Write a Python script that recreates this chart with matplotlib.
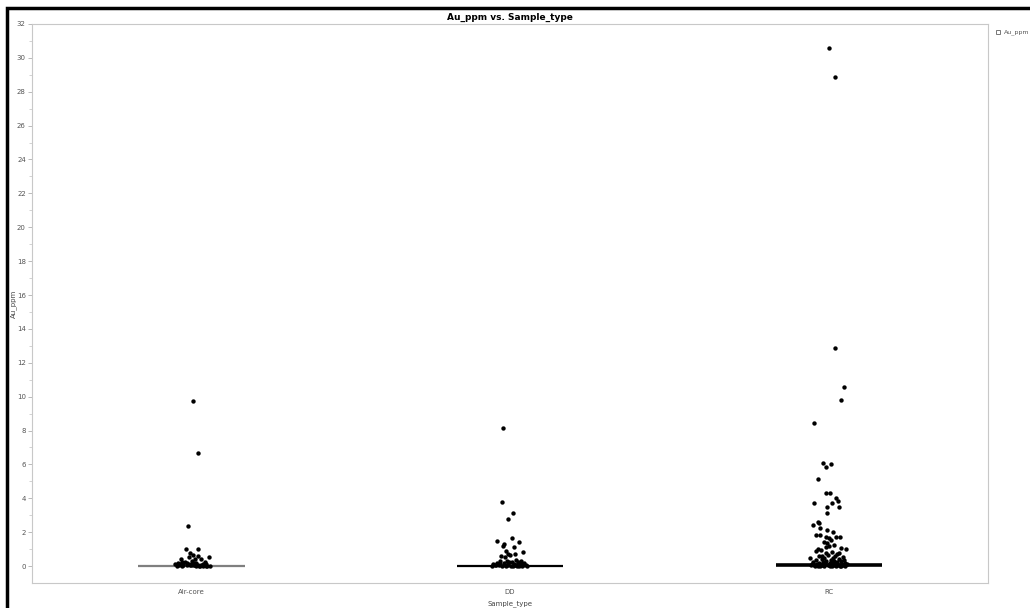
import matplotlib.pyplot as plt
from matplotlib.lines import Line2D
from matplotlib.patches import Rectangle

# Au_ppm values per sample type, with the small horizontal jitter seen in the plot
categories = ["Air-core", "DD", "RC"]

aircore_au = [9.75, 6.70, 2.36, 0.99, 0.99, 0.75, 0.65, 0.59, 0.51, 0.43, 0.51, 0.39,
              0.39, 0.26, 0.26, 0.16, 0.16, 0.12, 0.10, 0.08, 0.06, 0.05, 0.04, 0.03,
              0.02, 0.02, 0.01, 0.01, 0.14, 0.11, 0.09, 0.07, 0.05, 0.03, 0.02, 0.01,
              0.22, 0.18, 0.13, 0.08, 0.04, 0.02, 0.30, 0.20, 0.12, 0.06]
aircore_jit = [0.004, 0.022, -0.012, -0.017, 0.022, -0.004, 0.005, 0.021, -0.008, 0.011, 0.055, -0.031,
               0.031, -0.021, 0.042, -0.042, 0.016, -0.050, -0.035, -0.025, -0.015, -0.005, 0.005, 0.015,
               0.025, 0.035, 0.045, 0.060, -0.010, 0.000, 0.010, 0.020, 0.030, 0.050, -0.045, -0.030,
               -0.028, 0.008, 0.038, -0.002, 0.012, 0.028, 0.003, -0.014, 0.047, -0.038]

dd_au = [8.16, 3.78, 3.15, 2.80, 1.67, 1.48, 1.40, 1.30, 1.20, 1.10, 0.91, 0.85,
         0.71, 0.69, 0.59, 0.53, 0.63, 0.35, 0.32, 0.30, 0.28, 0.25, 0.22, 0.20,
         0.18, 0.16, 0.15, 0.13, 0.12, 0.10, 0.09, 0.08, 0.07, 0.06, 0.05, 0.04,
         0.03, 0.03, 0.02, 0.02, 0.01, 0.01, 0.01, 0.00, 0.00, 0.24, 0.19, 0.11,
         0.06, 0.04, 0.14, 0.08]
dd_jit = [-0.023, -0.025, 0.010, -0.008, 0.005, -0.040, 0.029, -0.018, -0.021, 0.013, -0.012, 0.040,
          -0.007, 0.017, -0.028, -0.016, 0.000, 0.020, -0.010, 0.035, -0.030, 0.005, 0.025, -0.020,
          0.045, -0.040, 0.012, -0.005, 0.030, -0.052, 0.050, -0.015, 0.018, -0.035, 0.040, -0.045,
          0.008, 0.028, -0.025, 0.054, -0.057, 0.002, 0.022, -0.012, 0.036, -0.002, 0.032, -0.032,
          0.014, -0.008, 0.042, -0.048]

rc_au = [30.57, 28.88, 12.87, 10.55, 9.78, 8.46, 6.07, 6.01, 5.87, 5.12, 4.33, 4.29,
         4.00, 3.86, 3.74, 3.70, 3.49, 3.51, 3.11, 2.60, 2.56, 2.42, 2.26, 2.15,
         2.01, 1.81, 1.81, 1.70, 1.71, 1.73, 1.65, 1.54, 1.44, 1.34, 1.14, 1.18,
         1.08, 1.02, 0.89, 0.95, 0.79, 0.85, 0.75, 0.68, 0.62, 0.60, 0.55, 0.50,
         0.48, 0.45, 0.42, 0.40, 0.38, 0.35, 0.33, 0.30, 0.28, 0.27, 0.25, 0.23,
         0.22, 0.20, 0.19, 0.18, 0.17, 0.15, 0.14, 0.13, 0.12, 0.11, 0.10, 0.10,
         0.09, 0.08, 0.08, 0.07, 0.06, 0.06, 0.05, 0.05, 0.04, 0.04, 0.03, 0.03,
         0.02, 0.02, 0.02, 0.01, 0.01, 0.01, 0.00, 0.00, 1.25, 0.98, 0.72, 0.58]
rc_jit = [0.001, 0.019, 0.020, 0.049, 0.040, -0.045, -0.018, 0.006, -0.010, -0.034, -0.009, 0.004,
          0.023, 0.028, -0.045, 0.009, -0.006, 0.031, -0.007, -0.035, -0.031, -0.050, -0.026, -0.005,
          0.013, -0.041, -0.028, -0.010, 0.024, 0.035, 0.000, 0.008, -0.016, -0.005, -0.010, 0.002,
          0.040, 0.054, -0.039, -0.023, -0.010, 0.010, 0.031, -0.002, 0.020, -0.030, 0.044, -0.015,
          0.012, -0.058, 0.033, -0.022, 0.006, 0.048, -0.040, 0.018, -0.008, 0.038, -0.048, 0.026,
          -0.018, 0.003, 0.052, -0.032, 0.014, -0.052, 0.042, -0.012, 0.022, -0.038, 0.008, 0.057,
          -0.025, 0.034, -0.003, -0.045, 0.046, 0.016, -0.020, 0.028, -0.055, 0.000, 0.040, -0.035,
          0.010, -0.014, 0.050, -0.028, 0.024, 0.036, -0.042, 0.004, 0.015, -0.035, 0.027, -0.020]

# centre lines (median) per group
center_val = [0.0, 0.02, 0.05]
center_col = ["#7f7f7f", "black", "black"]
center_lw = [1.6, 1.6, 2.6]

fig = plt.figure(figsize=(10.3, 6.08), dpi=100)
ax = fig.add_axes([0.0311, 0.0411, 0.9282, 0.9195])

groups = [(aircore_au, aircore_jit), (dd_au, dd_jit), (rc_au, rc_jit)]
for i, (vals, jit) in enumerate(groups):
    xs = [i + j for j in jit]
    ax.scatter(xs, vals, s=10, color="black", linewidths=0, zorder=3)
    ax.plot([i - 0.167, i + 0.167], [center_val[i], center_val[i]],
            color=center_col[i], lw=center_lw[i], solid_capstyle="butt", zorder=2)

ax.set_xlim(-0.5, 2.5)
ax.set_ylim(-1, 32)
ax.set_xticks(range(len(categories)))
ax.set_xticklabels(categories)
ax.set_yticks(range(0, 33, 2))
ax.set_yticks(range(1, 33, 2), minor=True)
ax.tick_params(axis="both", which="major", labelsize=5, colors="#b0b0b0",
               labelcolor="#555555", length=3, width=0.6)
ax.tick_params(axis="y", which="minor", length=2, width=0.5, colors="#c0c0c0")
ax.tick_params(axis="x", length=0, pad=4)
ax.tick_params(axis="y", pad=1.5)
for s in ax.spines.values():
    s.set_color("#c8c8c8")
    s.set_linewidth(0.8)

ax.set_xlabel("Sample_type", fontsize=5, color="#444444", labelpad=4)
ax.set_ylabel("Au_ppm", fontsize=5, color="#444444", va="center")
ax.yaxis.set_label_coords(-0.0195, 0.5)
ax.set_title("Au_ppm vs. Sample_type", fontsize=6.5, fontweight="bold", pad=3)

# legend entry at the top right
fig.add_artist(Line2D([998 / 1030], [1 - 32 / 608], marker="s", markersize=3,
                      markerfacecolor="white", markeredgecolor="#777777",
                      markeredgewidth=0.7, transform=fig.transFigure))
fig.text(1004 / 1030, 1 - 32 / 608, "Au_ppm", fontsize=4.5, color="#555555", va="center")

# black frame around the screenshot (left and top edges)
fig.add_artist(Rectangle((6.5 / 1030, -0.2), 1.3, 1.2 - 8 / 608, fill=False,
                         edgecolor="black", linewidth=2.5, transform=fig.transFigure))

fig.savefig("out.png", dpi=100)
